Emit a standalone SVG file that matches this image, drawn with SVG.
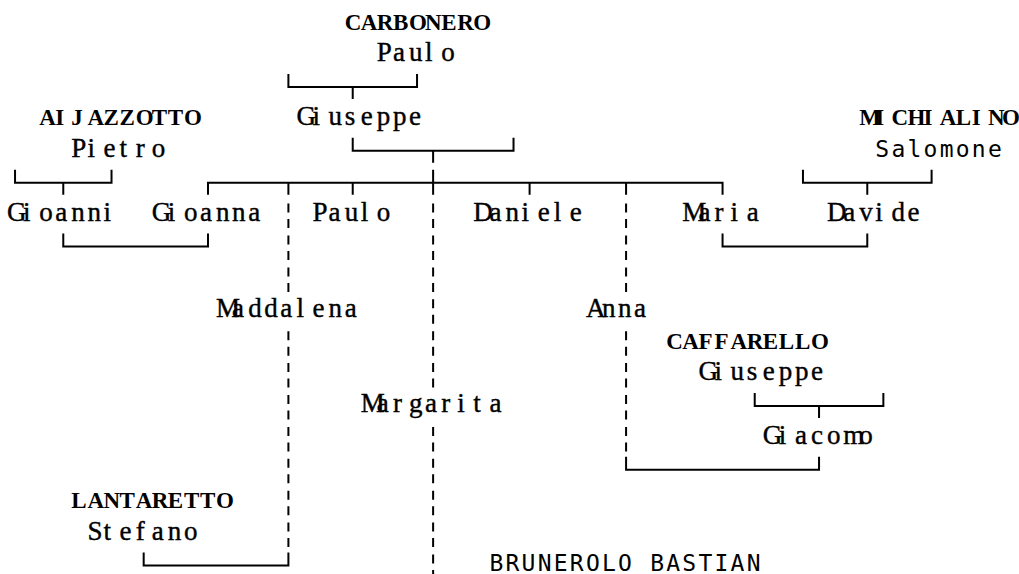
<svg xmlns="http://www.w3.org/2000/svg" width="1019" height="574" viewBox="0 0 1019 574">
<style>
.bg{fill:#ffffff}
.nm{font-family:"Liberation Serif","Times New Roman",serif;font-size:27px;fill:#000;stroke:#000;stroke-width:0.4}
.sn{font-family:"Liberation Serif","Times New Roman",serif;font-size:23px;font-weight:bold;fill:#000}
.mo{font-family:"DejaVu Sans Mono","Liberation Mono",monospace;font-size:23px;fill:#000}
.ln{fill:none;stroke:#000;stroke-width:2;stroke-linejoin:miter}
.dl{fill:none;stroke:#000;stroke-width:2;stroke-dasharray:9 6.5 9 7.4}
</style>
<rect class="bg" x="0" y="0" width="1019" height="574"/>
<g id="connectors">
<path class="ln" d="M288.4,74 V87 H417.04 V74 M352.72,87 V99"/>
<path class="ln" d="M352.72,137.8 V150.8 H513.52 V137.8 M433.12,150.8 V162.8"/>
<path class="ln" d="M15.04,169.7 V182.7 H111.52 V169.7 M63.28,182.7 V194.7"/>
<path class="ln" d="M208,194.7 V182.7 H722.56 V194.7 M288.4,182.7 V194.7 M352.72,182.7 V194.7 M433.12,169.7 V194.7 M529.6,182.7 V194.7 M626.08,182.7 V194.7"/>
<path class="ln" d="M802.96,169.7 V182.7 H931.6 V169.7 M867.28,182.7 V194.7"/>
<path class="ln" d="M63.28,233.5 V246.5 H208 V233.5 M722.56,233.5 V246.5 H867.28 V233.5"/>
<path class="ln" d="M754.72,393 V406 H883.36 V393 M819.04,406 V418"/>
<path class="ln" d="M626.08,456.8 V469.8 H819.04 V456.8"/>
<path class="ln" d="M143.68,552.5 V565.5 H288.4 V552.5"/>
<path class="dl" d="M288.4,203.6 V294.4 M288.4,331.2 V549.6"/>
<path class="dl" d="M433.12,203.6 V390.1 M433.12,426.9 V574"/>
<path class="dl" d="M626.08,203.6 V294.4 M626.08,331.2 V453.9"/>
</g>
<g id="carbonero-paulo">
<text class="sn" x="344.68 360.76 376.84 392.92 409 425.08 441.16 457.24 473.32" y="29.5">CARBONERO</text>
<text class="nm" x="376.84 392.92 409 425.08 441.16" y="61.4">Paulo</text>
</g>
<g id="aijazzotto-pietro">
<text class="sn" x="39.16 55.24 71.32 87.4 103.48 119.56 135.64 151.72 167.8 183.88" y="125.2">AIJAZZOTTO</text>
<text class="nm" x="71.32 87.4 103.48 119.56 135.64 151.72" y="157.1">Pietro</text>
</g>
<g id="giuseppe">
<text class="nm" x="296.44 312.52 328.6 344.68 360.76 376.84 392.92 409" y="125.2">Giuseppe</text>
</g>
<g id="michialino-salomone">
<text class="sn" x="859.24 875.32 891.4 907.48 923.56 939.64 955.72 971.8 987.88 1002" y="125.2">MICHIALINO</text>
<text class="mo" x="875.32 891.4 907.48 923.56 939.64 955.72 971.8 987.88" y="157.1">Salomone</text>
</g>
<g id="gioanni"><text class="nm" x="7 23.08 39.16 55.24 71.32 87.4 103.48" y="220.9">Gioanni</text></g>
<g id="gioanna"><text class="nm" x="151.72 167.8 183.88 199.96 216.04 232.12 248.2" y="220.9">Gioanna</text></g>
<g id="paulo"><text class="nm" x="312.52 328.6 344.68 360.76 376.84" y="220.9">Paulo</text></g>
<g id="daniele"><text class="nm" x="473.32 489.4 505.48 521.56 537.64 553.72 569.8" y="220.9">Daniele</text></g>
<g id="maria"><text class="nm" x="682.36 698.44 714.52 730.6 746.68" y="220.9">Maria</text></g>
<g id="davide"><text class="nm" x="827.08 843.16 859.24 875.32 891.4 907.48" y="220.9">Davide</text></g>
<g id="maddalena"><text class="nm" x="216.04 232.12 248.2 264.28 280.36 296.44 312.52 328.6 344.68" y="316.6">Maddalena</text></g>
<g id="anna"><text class="nm" x="585.88 601.96 618.04 634.12" y="316.6">Anna</text></g>
<g id="caffarello-giuseppe">
<text class="sn" x="666.28 682.36 698.44 714.52 730.6 746.68 762.76 778.84 794.92 811" y="348.5">CAFFARELLO</text>
<text class="nm" x="698.44 714.52 730.6 746.68 762.76 778.84 794.92 811" y="380.4">Giuseppe</text>
</g>
<g id="margarita"><text class="nm" x="360.76 376.84 392.92 409 425.08 441.16 457.24 473.32 489.4" y="412.3">Margarita</text></g>
<g id="giacomo"><text class="nm" x="762.76 778.84 794.92 811 827.08 843.16 859.24" y="444.2">Giacomo</text></g>
<g id="lantaretto-stefano">
<text class="sn" x="71.32 87.4 103.48 119.56 135.64 151.72 167.8 183.88 199.96 216.04" y="508">LANTARETTO</text>
<text class="nm" x="87.4 103.48 119.56 135.64 151.72 167.8 183.88" y="539.9">Stefano</text>
</g>
<g id="brunerolo-bastian">
<text class="mo" x="489.4 505.48 521.56 537.64 553.72 569.8 585.88 601.96 618.04 634.12 650.2 666.28 682.36 698.44 714.52 730.6 746.68" y="570.5">BRUNEROLO BASTIAN</text>
</g>
</svg>
